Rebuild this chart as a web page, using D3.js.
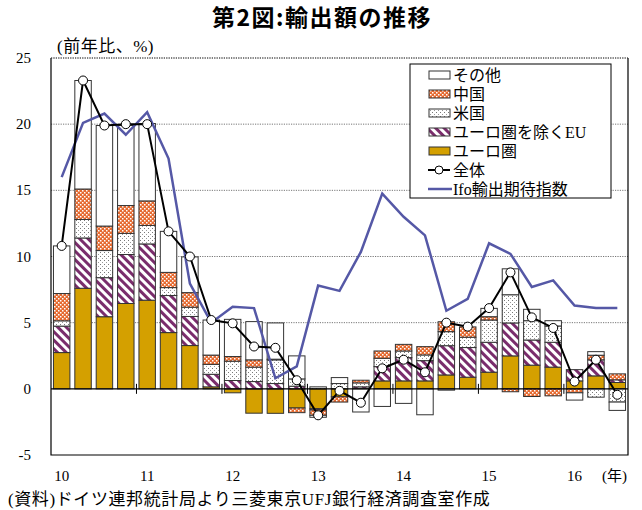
<!DOCTYPE html>
<html lang="ja">
  <head>
    <meta charset="utf-8">
    <title>輸出額の推移</title>
    <style>
      body { margin: 0; background: #fff; }
      svg { display: block; }
      text { font-family: "Liberation Serif", "Noto Sans CJK JP", serif; fill: #000; }
      .title { font-family: "Noto Sans CJK JP", sans-serif; font-weight: bold; font-size: 23px; letter-spacing: 1.5px; text-anchor: middle; }
      .tick { font-size: 15px; }
      .grid { stroke: #777; stroke-width: 1; stroke-dasharray: 1.2,1.2; }
      .bar { stroke: #333; stroke-width: 1; }
      .legend text { font-size: 16px; }
    </style>
  </head>
  <body>
    <svg id="chart" width="642" height="510"></svg>
    <script src="https://cdn.jsdelivr.net/npm/d3@7"></script>
    <script>
      // 2010Q1 .. 2016Q3
      const quarters = [];
      for (let y = 10; y <= 16; y++) {
        for (let q = 1; q <= 4; q++) {
          if (y === 16 && q === 4) break;
          quarters.push(y + "Q" + q);
        }
      }
      const yearLabels = ["10", "11", "12", "13", "14", "15", "16"];
      const yTicks = [-5, 0, 5, 10, 15, 20, 25];

      const euro   = [2.74, 7.6, 5.45, 6.45, 6.7, 4.25, 3.27, 0.15, -0.3, -1.84, -1.85, -1.45, -1.5, -0.6, 0, 0.6, 0.6, 0.6, 1.05, 0.88, 1.26, 2.49, 1.79, 1.64, 0.6, 0.98, 0.48];
      const euEx   = [2.0, 3.8, 2.95, 3.7, 4.25, 2.8, 2.2, 0.95, 0.63, 0.55, 0.4, 0.2, -0.1, 0, 0.15, 1.08, 1.76, 1.53, 2.21, 2.24, 2.26, 2.49, 1.9, 1.88, 0.85, 1.21, 0.2];
      const usa    = [0.4, 1.4, 2.05, 1.6, 1.4, 0.6, 0.7, 0.75, 1.46, 1.09, 1.79, 0.55, 0.15, 0.4, 0.3, 0.63, 0.5, 0.43, 1.06, 0.78, 1.68, 2.13, 1.46, 1.23, 0, -0.63, -1.0];
      const china  = [2.06, 2.3, 1.85, 2.1, 1.85, 1.15, 1.1, 0.7, 0.35, 0.55, 0.05, -0.35, -0.4, -0.4, 0.2, 0.55, 0.5, 0.63, 0.75, 0.78, 0.25, -0.22, -0.58, -0.53, -0.3, 0.35, 0.45];
      const others = [3.6, 8.2, 7.6, 6.05, 5.85, 3.1, 2.7, 2.65, 2.81, 2.89, 2.74, 1.74, -0.15, 0.45, -1.75, -1.33, -1.1, -1.96, -0.1, 0, 0.63, 1.96, 0.86, 0.4, -0.55, 0.27, -0.63];
      const total  = [10.8, 23.3, 19.9, 20.0, 20.0, 11.9, 10.0, 5.2, 4.95, 3.2, 3.1, 0.65, -2.0, -0.15, -1.05, 1.55, 2.2, 1.25, 5.0, 4.7, 6.1, 8.8, 5.4, 4.6, 0.55, 2.2, -0.45];
      const ifo    = [16.0, 20.1, 20.8, 19.2, 20.9, 17.4, 7.95, 5.0, 6.2, 6.1, 0.8, 1.7, 7.8, 7.4, 10.35, 14.75, 13.0, 11.6, 5.9, 6.8, 11.0, 10.2, 7.7, 8.2, 6.3, 6.1, 6.1];

      const keys = ["euro", "euEx", "usa", "china", "others"];
      const table = quarters.map((q, i) => ({
        q: q, euro: euro[i], euEx: euEx[i], usa: usa[i], china: china[i], others: others[i]
      }));

      const L = 51, R = 628, T = 58, B = 455;
      var svg = d3.select("svg");

      var x = d3.scaleBand().domain(quarters).range([L, R]).paddingInner(0.23).paddingOuter(0.115);
      var y = d3.scaleLinear().domain([-5, 25]).range([B, T]);
      const half = x.step() * 0.23 / 2;

      // patterns
      var defs = svg.append("defs");
      var pc = defs.append("pattern").attr("id", "p-china").attr("patternUnits", "userSpaceOnUse")
        .attr("width", 4).attr("height", 4);
      pc.append("rect").attr("width", 4).attr("height", 4).attr("fill", "#e66a30");
      pc.append("rect").attr("x", 0).attr("y", 0).attr("width", 1.5).attr("height", 1.5).attr("fill", "#fff");
      pc.append("rect").attr("x", 2).attr("y", 2).attr("width", 1.5).attr("height", 1.5).attr("fill", "#fff");

      var pu = defs.append("pattern").attr("id", "p-usa").attr("patternUnits", "userSpaceOnUse")
        .attr("width", 4).attr("height", 4);
      pu.append("rect").attr("width", 4).attr("height", 4).attr("fill", "#fff");
      pu.append("rect").attr("x", 0).attr("y", 0).attr("width", 1).attr("height", 1).attr("fill", "#777");
      pu.append("rect").attr("x", 2).attr("y", 2).attr("width", 1).attr("height", 1).attr("fill", "#999");

      var pe = defs.append("pattern").attr("id", "p-euex").attr("patternUnits", "userSpaceOnUse")
        .attr("width", 6).attr("height", 6).attr("patternTransform", "rotate(-45)");
      pe.append("rect").attr("width", 6).attr("height", 6).attr("fill", "#fff");
      pe.append("rect").attr("width", 3).attr("height", 6).attr("fill", "#7a2d6c");

      const fills = { euro: "#d4a000", euEx: "url(#p-euex)", usa: "url(#p-usa)", china: "url(#p-china)", others: "#fff" };

      // title and labels
      svg.append("text").attr("class", "title").attr("x", 322).attr("y", 26).text("第2図:輸出額の推移");
      svg.append("text").attr("x", 57).attr("y", 52).style("font-size", "17px").style("letter-spacing", "0.5px")
        .text("(前年比、%)");

      // grid
      svg.append("g").selectAll("line")
        .data(yTicks.filter(d => d > 0))
        .enter().append("line")
        .attr("class", "grid")
        .attr("x1", L).attr("x2", R)
        .attr("y1", d => y(d)).attr("y2", d => y(d));

      svg.append("g").selectAll("text")
        .data(yTicks)
        .enter().append("text")
        .attr("class", "tick")
        .attr("x", 31).attr("y", d => y(d) + 5)
        .attr("text-anchor", "end")
        .text(d => d);

      // stacked bars
      var series = d3.stack().keys(keys).offset(d3.stackOffsetDiverging)(table);
      svg.append("g").selectAll("g")
        .data(series)
        .enter().append("g")
        .attr("fill", d => fills[d.key])
        .selectAll("rect")
        .data(d => d)
        .enter().append("rect")
        .attr("class", "bar")
        .attr("x", d => x(d.data.q))
        .attr("width", x.bandwidth())
        .attr("y", d => y(Math.max(d[0], d[1])))
        .attr("height", d => Math.abs(y(d[0]) - y(d[1])));

      // zero line and year ticks
      svg.append("line").attr("x1", L).attr("x2", R).attr("y1", y(0)).attr("y2", y(0))
        .attr("stroke", "#000").attr("stroke-width", 1.2);
      svg.append("g").selectAll("line")
        .data(quarters.filter((q, i) => i > 0 && i % 4 === 0))
        .enter().append("line")
        .attr("x1", d => x(d) - half).attr("x2", d => x(d) - half)
        .attr("y1", y(0) - 5).attr("y2", y(0) + 5)
        .attr("stroke", "#000");

      // lines
      var line = d3.line().x((d, i) => x(quarters[i]) + x.bandwidth() / 2).y(d => y(d));
      svg.append("path").datum(ifo).attr("d", line)
        .attr("fill", "none").attr("stroke", "#5558a6").attr("stroke-width", 2.5);
      svg.append("path").datum(total).attr("d", line)
        .attr("fill", "none").attr("stroke", "#000").attr("stroke-width", 2);
      svg.append("g").selectAll("circle")
        .data(total)
        .enter().append("circle")
        .attr("cx", (d, i) => x(quarters[i]) + x.bandwidth() / 2)
        .attr("cy", d => y(d))
        .attr("r", 4.5)
        .attr("fill", "#fff").attr("stroke", "#000").attr("stroke-width", 1);

      // frame
      svg.append("path")
        .attr("d", "M" + L + "," + T + "V" + B + "H" + R + "V" + T)
        .attr("fill", "none").attr("stroke", "#000").attr("stroke-width", 1.2);
      svg.append("line").attr("class", "grid").attr("x1", L).attr("x2", R).attr("y1", T).attr("y2", T)
        .style("stroke", "#444");

      // x labels
      svg.append("g").selectAll("text")
        .data(yearLabels)
        .enter().append("text")
        .attr("class", "tick")
        .attr("x", d => x(d + "Q1") + x.bandwidth() / 2)
        .attr("y", 481)
        .attr("text-anchor", "middle")
        .text(d => d);
      svg.append("text").attr("class", "tick").attr("x", 602).attr("y", 481).text("(年)");

      svg.append("text").attr("x", 8).attr("y", 505).style("font-size", "17px").style("letter-spacing", "0.6px")
        .text("(資料)ドイツ連邦統計局より三菱東京UFJ銀行経済調査室作成");

      // legend
      var lg = svg.append("g").attr("class", "legend");
      lg.append("rect").attr("x", 410).attr("y", 64).attr("width", 201).attr("height", 134)
        .attr("fill", "#fff").attr("stroke", "#000");
      const legendItems = [
        { key: "others", label: "その他" },
        { key: "china", label: "中国" },
        { key: "usa", label: "米国" },
        { key: "euEx", label: "ユーロ圏を除くEU" },
        { key: "euro", label: "ユーロ圏" },
        { key: "total", label: "全体" },
        { key: "ifo", label: "Ifo輸出期待指数" }
      ];
      legendItems.forEach((d, i) => {
        var cy = 75 + i * 19;
        if (d.key === "total") {
          lg.append("line").attr("x1", 428).attr("x2", 450).attr("y1", cy).attr("y2", cy)
            .attr("stroke", "#000").attr("stroke-width", 2);
          lg.append("circle").attr("cx", 439).attr("cy", cy).attr("r", 4)
            .attr("fill", "#fff").attr("stroke", "#000");
        } else if (d.key === "ifo") {
          lg.append("line").attr("x1", 428).attr("x2", 452).attr("y1", cy).attr("y2", cy)
            .attr("stroke", "#5558a6").attr("stroke-width", 2.5);
        } else {
          lg.append("rect").attr("x", 429).attr("y", cy - 4).attr("width", 21).attr("height", 8)
            .attr("fill", fills[d.key]).attr("stroke", "#333");
        }
        lg.append("text").attr("x", 453).attr("y", cy + 6).text(d.label);
      });
    </script>
  </body>
</html>
